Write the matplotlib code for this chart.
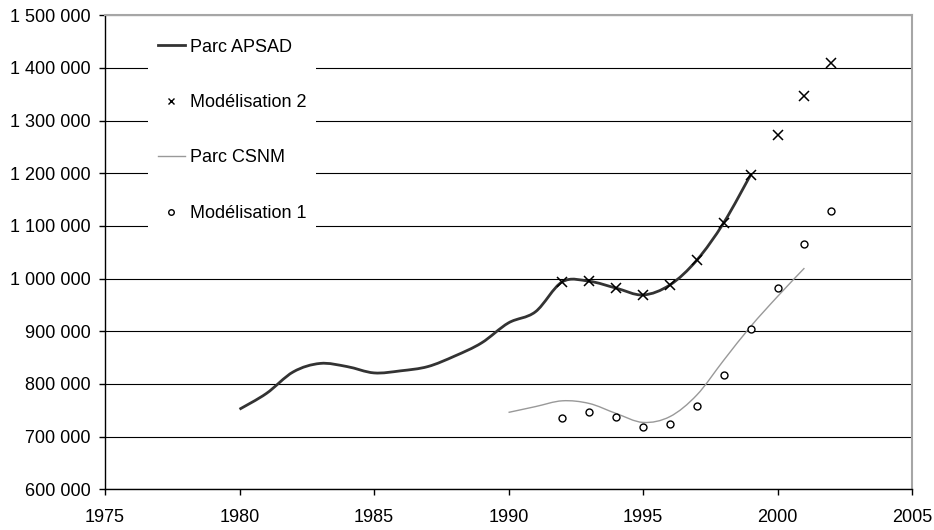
import matplotlib
matplotlib.use("Agg")
import matplotlib.pyplot as plt
from matplotlib.path import Path
from matplotlib.patches import PathPatch
from matplotlib.lines import Line2D
from matplotlib.ticker import FuncFormatter, MultipleLocator
import numpy as np

plt.rcParams['font.family'] = ['Liberation Sans', 'DejaVu Sans']

# ---- data ----
apsad_years = [1980, 1981, 1982, 1983, 1984, 1985, 1986, 1987, 1988, 1989,
               1990, 1991, 1992, 1993, 1994, 1995, 1996, 1997, 1998, 1999]
apsad_vals = [752000, 782000, 823000, 839000, 833000, 821000, 825000, 833000,
              853000, 878000, 916000, 937000, 994000, 995000, 982000, 969000,
              988000, 1035000, 1106000, 1197000]

mod2_years = [1992, 1993, 1994, 1995, 1996, 1997, 1998, 1999, 2000, 2001, 2002]
mod2_vals = [993000, 995000, 983000, 969000, 988000, 1035000, 1106000,
             1197000, 1273000, 1346000, 1409000]

csnm_years = [1990, 1991, 1992, 1993, 1994, 1995, 1996, 1997, 1998, 1999, 2000, 2001]
csnm_vals = [746000, 757000, 768000, 763000, 744000, 727000, 738000, 779000,
             845000, 909000, 966000, 1020000]

mod1_years = [1992, 1993, 1994, 1995, 1996, 1997, 1998, 1999, 2000, 2001, 2002]
mod1_vals = [735000, 747000, 737000, 719000, 724000, 758000, 817000, 904000,
             983000, 1066000, 1128000]

labels = ["Parc APSAD", "Modélisation 2", "Parc CSNM", "Modélisation 1"]
x_ticks = [1975, 1980, 1985, 1990, 1995, 2000, 2005]


def smooth_path(xs, ys):
    """Excel-like smoothed line: cubic Bezier through every point."""
    p = np.column_stack([xs, ys]).astype(float)
    n = len(p)
    verts = [p[0]]
    codes = [Path.MOVETO]
    for i in range(n - 1):
        p_prev = p[i - 1] if i > 0 else p[i]
        p_next2 = p[i + 2] if i + 2 < n else p[i + 1]
        c1 = p[i] + (p[i + 1] - p_prev) / 6.0
        c2 = p[i + 1] - (p_next2 - p[i]) / 6.0
        verts += [c1, c2, p[i + 1]]
        codes += [Path.CURVE4] * 3
    return Path(verts, codes)


fig = plt.figure(figsize=(9.34, 5.30), dpi=100)
ax = fig.add_axes([105 / 934, 1 - 489.3 / 530, 807 / 934, (489.3 - 15.3) / 530])

apsad_color = "#333333"
csnm_color = "#999999"

ax.add_patch(PathPatch(smooth_path(apsad_years, apsad_vals), fill=False,
                       edgecolor=apsad_color, lw=2.0, zorder=3, capstyle='butt'))
ax.add_patch(PathPatch(smooth_path(csnm_years, csnm_vals), fill=False,
                       edgecolor=csnm_color, lw=1.0, zorder=3))
ax.plot(mod2_years, mod2_vals, linestyle='none', marker='x', markersize=6.5,
        markeredgewidth=1.1, color='black', zorder=4)
ax.plot(mod1_years, mod1_vals, linestyle='none', marker='o', markersize=5,
        markeredgewidth=1.0, markerfacecolor='white', markeredgecolor='black', zorder=4)

ax.set_xlim(1975, 2005)
ax.set_ylim(600000, 1500000)
ax.set_xticks(x_ticks)
ax.yaxis.set_major_locator(MultipleLocator(100000))
ax.yaxis.set_major_formatter(FuncFormatter(lambda v, p: f"{int(v):,}".replace(",", " ")))

ax.grid(axis='y', color='black', lw=0.8, zorder=0)
ax.set_axisbelow(True)
for s in ['left', 'bottom']:
    ax.spines[s].set_color('black')
    ax.spines[s].set_linewidth(1.0)
for s in ['right', 'top']:
    ax.spines[s].set_color('#a6a6a6')
    ax.spines[s].set_linewidth(1.5)

ax.tick_params(axis='both', direction='out', length=4.5, width=1.0, colors='black',
               labelsize=13)
ax.tick_params(axis='y', pad=6)
ax.tick_params(axis='x', pad=10)

handles = [
    Line2D([], [], color=apsad_color, lw=2.0),
    Line2D([], [], linestyle='none', marker='x', markersize=5, markeredgewidth=1.0, color='black'),
    Line2D([], [], color=csnm_color, lw=1.0),
    Line2D([], [], linestyle='none', marker='o', markersize=4, markeredgewidth=1.0,
           markerfacecolor='white', markeredgecolor='black'),
]
leg = ax.legend(handles, labels, loc='upper left', bbox_to_anchor=(0.053, 0.972),
                borderaxespad=0, frameon=True, fancybox=False, framealpha=1,
                facecolor='white', edgecolor='none', fontsize=13,
                labelspacing=2.13, handlelength=1.5, handletextpad=0.28,
                borderpad=0.55)
leg.set_zorder(5)

fig.savefig("out.png", dpi=100)
